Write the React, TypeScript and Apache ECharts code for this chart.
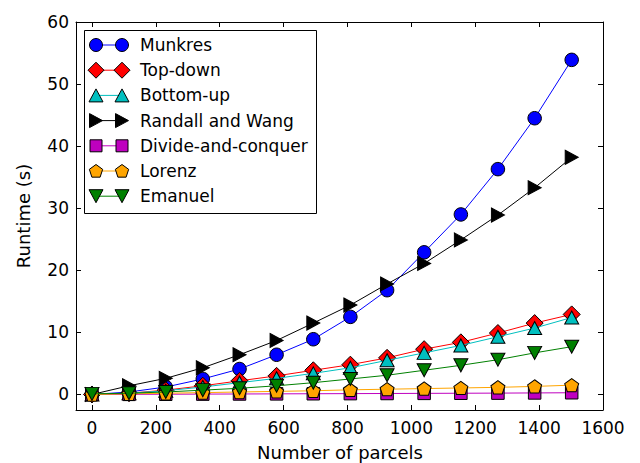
import React, { useEffect, useRef } from "react";
import * as echarts from "echarts";

const parcels = [0, 116, 231, 347, 462, 578, 693, 809, 924, 1040, 1155, 1271, 1386, 1502];
const munkres = [0, 0.4, 1.2, 2.5, 4.1, 6.4, 8.9, 12.5, 16.8, 22.9, 29.0, 36.3, 44.5, 53.9];
const topDown = [0, 0.2, 0.7, 1.4, 2.2, 3.0, 3.9, 4.8, 5.9, 7.3, 8.4, 9.9, 11.5, 12.9];
const bottomUp = [0, 0.2, 0.6, 1.2, 1.9, 2.6, 3.4, 4.3, 5.5, 6.7, 7.9, 9.3, 10.7, 12.4];
const randallWang = [0, 1.4, 2.6, 4.3, 6.4, 8.7, 11.5, 14.4, 17.8, 21.1, 24.9, 28.9, 33.3, 38.2];
const divideConquer = [0, 0.02, 0.04, 0.06, 0.08, 0.1, 0.12, 0.14, 0.16, 0.18, 0.2, 0.22, 0.25, 0.28];
const lorenz = [0, 0.1, 0.2, 0.3, 0.4, 0.5, 0.6, 0.75, 0.85, 0.95, 1.05, 1.15, 1.3, 1.5];
const emanuel = [0.1, 0.2, 0.4, 0.7, 1.0, 1.4, 1.9, 2.5, 3.1, 3.9, 4.7, 5.6, 6.7, 7.7];

const seriesNames = ["Munkres", "Top-down", "Bottom-up", "Randall and Wang", "Divide-and-conquer", "Lorenz", "Emanuel"];
const seriesValues = [munkres, topDown, bottomUp, randallWang, divideConquer, lorenz, emanuel];
const seriesColors = ["#0000ff", "#ff0000", "#00bfbf", "#000000", "#bf00bf", "#ffa500", "#008000"];
const seriesShapes = ["circle", "diamond", "triUp", "triRight", "square", "pentagon", "triDown"];

const xTicks = [0, 200, 400, 600, 800, 1000, 1200, 1400, 1600];
const yTicks = [0, 10, 20, 30, 40, 50, 60];

const FONT = "DejaVu Sans";

const symbolFor: Record<string, { symbol: string; size: number | number[] }> = {
  circle: { symbol: "circle", size: 13.5 },
  diamond: { symbol: "diamond", size: 17 },
  triUp: { symbol: "path://M5,0 L10,9.5 L0,9.5 Z", size: [14, 13] },
  triRight: { symbol: "path://M0,0 L9.5,5 L0,10 Z", size: [13, 14] },
  square: { symbol: "rect", size: 12.5 },
  pentagon: {
    symbol: "path://M0,-1 L0.951,-0.309 L0.588,0.809 L-0.588,0.809 L-0.951,-0.309 Z",
    size: [14, 13.3],
  },
  triDown: { symbol: "path://M0,0 L10,0 L5,9.5 Z", size: [14, 13] },
};

function legendMarker(shape: string, cx: number, cy: number, color: string): any {
  const style = { fill: color, stroke: "#000", lineWidth: 1 };
  const z = 101;
  switch (shape) {
    case "circle":
      return { type: "circle", z, shape: { cx, cy, r: 6.5 }, style };
    case "diamond":
      return { type: "polygon", z, shape: { points: [[cx, cy - 8], [cx + 8, cy], [cx, cy + 8], [cx - 8, cy]] }, style };
    case "triUp":
      return { type: "polygon", z, shape: { points: [[cx, cy - 6.5], [cx + 7, cy + 6.5], [cx - 7, cy + 6.5]] }, style };
    case "triRight":
      return { type: "polygon", z, shape: { points: [[cx - 6.5, cy - 7], [cx + 6.5, cy], [cx - 6.5, cy + 7]] }, style };
    case "square":
      return { type: "rect", z, shape: { x: cx - 6, y: cy - 6, width: 12, height: 12 }, style };
    case "pentagon": {
      const r = 7;
      const pts = [-90, -18, 54, 126, 198].map((a) => [cx + r * Math.cos((a * Math.PI) / 180), cy + 0.5 + r * Math.sin((a * Math.PI) / 180)]);
      return { type: "polygon", z, shape: { points: pts }, style };
    }
    case "triDown":
    default:
      return { type: "polygon", z, shape: { points: [[cx - 7, cy - 6.5], [cx + 7, cy - 6.5], [cx, cy + 6.5]] }, style };
  }
}

export default function App() {
  const ref = useRef<HTMLDivElement>(null);

  useEffect(() => {
    document.body.style.margin = "0";
    if (!ref.current) return;
    const chart = echarts.init(ref.current, null, { renderer: "svg" });

    const axisCommon = {
      axisLine: { show: true, onZero: false, lineStyle: { color: "#000", width: 1 } },
      splitLine: { show: false },
    };

    const series = seriesNames.map((name, i) => ({
      name,
      type: "line",
      data: parcels.map((x, j) => [x, seriesValues[i][j]]),
      symbol: symbolFor[seriesShapes[i]].symbol,
      symbolSize: symbolFor[seriesShapes[i]].size,
      showAllSymbol: true,
      lineStyle: { color: seriesColors[i], width: 1 },
      itemStyle: { color: seriesColors[i], borderColor: "#000", borderWidth: 1 },
      emphasis: { disabled: true },
      z: 2 + i * 0.01,
    }));

    const legendTop = 30;
    const rowH = 25.2;
    const legendItems: any[] = [
      {
        type: "rect",
        z: 100,
        shape: { x: 84.5, y: legendTop + 0.5, width: 232, height: 183 },
        style: { fill: "#fff", stroke: "#000", lineWidth: 1 },
      },
    ];
    seriesNames.forEach((name, i) => {
      const cy = legendTop + 15 + i * rowH;
      legendItems.push({
        type: "line",
        z: 101,
        shape: { x1: 96, y1: cy, x2: 122, y2: cy },
        style: { stroke: seriesColors[i], lineWidth: 1 },
      });
      legendItems.push(legendMarker(seriesShapes[i], 96, cy, seriesColors[i]));
      legendItems.push(legendMarker(seriesShapes[i], 122, cy, seriesColors[i]));
      legendItems.push({
        type: "text",
        z: 101,
        x: 140,
        y: cy,
        style: { text: name, fill: "#000", font: `17px '${FONT}'`, textAlign: "left", textVerticalAlign: "middle" },
      });
    });
    legendItems.push({
      type: "text",
      x: 23,
      y: 216,
      rotation: Math.PI / 2,
      style: { text: "Runtime (s)", fill: "#000", font: `18px '${FONT}'`, textAlign: "center", textVerticalAlign: "middle" },
    });
    legendItems.push({
      type: "text",
      x: 340,
      y: 452,
      style: { text: "Number of parcels", fill: "#000", font: `18px '${FONT}'`, textAlign: "center", textVerticalAlign: "middle" },
    });

    const plain = (v: number) => String(v);

    chart.setOption({
      animation: false,
      textStyle: { fontFamily: FONT },
      grid: { left: 76, right: 37, top: 22, bottom: 53, containLabel: false },
      xAxis: [
        {
          type: "value",
          position: "bottom",
          min: -50,
          max: 1600,
          ...axisCommon,
          axisTick: { show: true, inside: true, length: 5, customValues: xTicks, lineStyle: { color: "#000" } },
          axisLabel: { show: true, customValues: xTicks, formatter: plain, margin: 9, color: "#000", fontSize: 17, fontFamily: FONT },
        },
        {
          type: "value",
          position: "top",
          min: -50,
          max: 1600,
          ...axisCommon,
          axisTick: { show: true, inside: true, length: 5, customValues: xTicks, lineStyle: { color: "#000" } },
          axisLabel: { show: false, customValues: xTicks },
        },
      ],
      yAxis: [
        {
          type: "value",
          position: "left",
          min: -2.5,
          max: 60,
          ...axisCommon,
          axisTick: { show: true, inside: true, length: 5, customValues: yTicks, lineStyle: { color: "#000" } },
          axisLabel: { show: true, customValues: yTicks, formatter: plain, margin: 7, color: "#000", fontSize: 17, fontFamily: FONT },
        },
        {
          type: "value",
          position: "right",
          min: -2.5,
          max: 60,
          ...axisCommon,
          axisTick: { show: true, inside: true, length: 5, customValues: yTicks, lineStyle: { color: "#000" } },
          axisLabel: { show: false, customValues: yTicks },
        },
      ],
      series,
      graphic: legendItems,
    });

    return () => chart.dispose();
  }, []);

  return <div ref={ref} style={{ width: 640, height: 463 }} />;
}
